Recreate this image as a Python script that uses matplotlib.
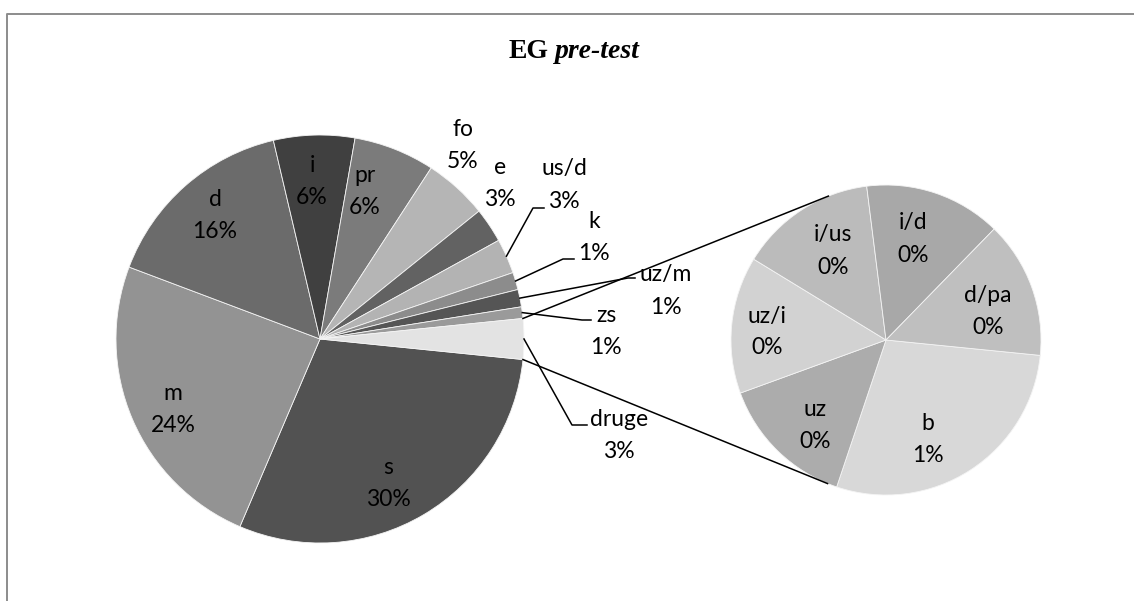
import matplotlib.pyplot as plt
import numpy as np

# glavni krug (u smjeru kazaljke, od donjeg ruba kriske "druge")
main_names = ['s', 'm', 'd', 'i', 'pr', 'fo', 'e', 'us/d', 'k', 'uz/m', 'zs']
main_counts = [65, 53, 34, 14, 14, 11, 6, 6, 3, 3, 2]
main_colors = ['#525252', '#939393', '#6b6b6b', '#404040', '#7b7b7b', '#b5b5b5',
               '#626262', '#b3b3b3', '#8c8c8c', '#555555', '#9a9a9a']

# drugi krug = "druge"
other_label = 'druge'
other_color = '#e3e3e3'
other_names = ['b', 'uz', 'uz/i', 'i/us', 'i/d', 'd/pa']
other_counts = [2, 1, 1, 1, 1, 1]
other_colors = ['#d8d8d8', '#acacac', '#d2d2d2', '#bbbbbb', '#a8a8a8', '#bfbfbf']

W, H = 1134, 601


def py(y):
    # pikselni y (odozgo) -> y osi
    return H - y


# raspored (pikseli slike)
C1, R1 = (320, 339), 204
C2, R2 = (886, 340), 155
START2 = -5.7
label_xy = {
    's': (388, 484), 'm': (173, 409), 'd': (215, 216), 'i': (312, 181),
    'pr': (365, 191), 'fo': (463, 146), 'e': (500, 184), 'us/d': (564, 185),
    'k': (594, 237), 'uz/m': (666, 291), 'zs': (606, 331), 'druge': (619, 435),
    'b': (928, 440), 'uz': (815, 425), 'uz/i': (767, 332), 'i/us': (833, 251),
    'i/d': (913, 239), 'd/pa': (988, 311),
}
# prijelom vodilice i kraj vodoravnog dijela
leaders = {
    'us/d': ((533, 208), 544), 'k': ((563, 259), 574), 'uz/m': ((628, 278), 635),
    'zs': ((582, 320), 591), 'druge': ((572, 425), 587),
}

font = ['Lato', 'DejaVu Sans']
fsize = 16.5

fig = plt.figure(figsize=(W / 100, H / 100), dpi=100)
ax = fig.add_axes([0, 0, 1, 1])

total = sum(main_counts) + sum(other_counts)
vals1 = main_counts + [sum(other_counts)]
names1 = main_names + [other_label]
cols1 = main_colors + [other_color]
start1 = -360.0 * vals1[-1] / total / 2

w1, _ = ax.pie(vals1, colors=cols1, startangle=start1, counterclock=False,
               center=(C1[0], py(C1[1])), radius=R1,
               wedgeprops=dict(edgecolor='#f4f4f4', linewidth=0.6))
w2, _ = ax.pie(other_counts, colors=other_colors, startangle=START2, counterclock=False,
               center=(C2[0], py(C2[1])), radius=R2,
               wedgeprops=dict(edgecolor='#f4f4f4', linewidth=0.6))

pcts1 = [100.0 * v / total for v in vals1]
pcts2 = [100.0 * v / total for v in other_counts]

for name, p in list(zip(names1, pcts1)) + list(zip(other_names, pcts2)):
    x, y = label_xy[name]
    ax.text(x, py(y - 16), name, ha='center', va='center', family=font, fontsize=fsize)
    ax.text(x, py(y + 16), '{:.0f}%'.format(p), ha='center', va='center',
            family=font, fontsize=fsize)

# vodilice od sredine kriske
for w, name in zip(w1, names1):
    if name not in leaders:
        continue
    mid = np.radians((w.theta1 + w.theta2) / 2)
    sx = C1[0] + R1 * np.cos(mid)
    sy = py(C1[1]) + R1 * np.sin(mid)
    (ex, ey), endx = leaders[name]
    ax.plot([sx, ex, endx], [sy, py(ey), py(ey)], color='black', lw=1.1)

# spojnice: rubovi kriske "druge" -> tangente na drugi krug
wo = w1[-1]
c2 = np.array([C2[0], py(C2[1])])
edges = []
for th in (wo.theta1, wo.theta2):
    edges.append(np.array([C1[0] + R1 * np.cos(np.radians(th)),
                           py(C1[1]) + R1 * np.sin(np.radians(th))]))
edges.sort(key=lambda q: q[1])
for k, p in enumerate(edges):
    v = p - c2
    base = np.arctan2(v[1], v[0])
    a = np.arccos(R2 / np.hypot(*v))
    cands = [c2 + R2 * np.array([np.cos(base + s * a), np.sin(base + s * a)])
             for s in (-1, 1)]
    cands.sort(key=lambda q: q[1])
    t = cands[k]  # donji rub -> donja tangenta, gornji -> gornja
    ax.plot([p[0], t[0]], [p[1], t[1]], color='black', lw=1.1)

# naslov
ax.text(549, py(51), 'EG', ha='right', va='center', family='Liberation Serif',
        fontweight='bold', fontsize=20)
ax.text(555, py(51), 'pre-test', ha='left', va='center', family='Liberation Serif',
        fontweight='bold', fontstyle='italic', fontsize=20)

# okvir
ax.plot([7, 7, W], [0, py(14), py(14)], color='#8c8c8c', lw=1.4, clip_on=False)

ax.set_xlim(0, W)
ax.set_ylim(0, H)
ax.set_aspect('equal')
ax.axis('off')

fig.savefig('out.png', dpi=100)
